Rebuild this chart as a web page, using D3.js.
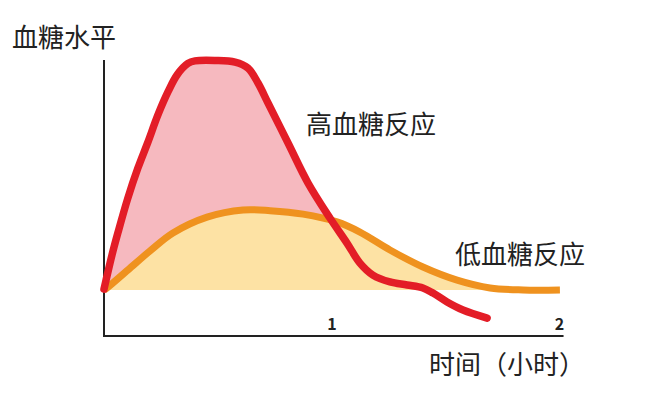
<!DOCTYPE html>
<html>
<head>
<meta charset="utf-8">
<script src="https://cdn.jsdelivr.net/npm/d3@7"></script>
<style>
html,body{margin:0;padding:0;background:#fff;}
text{font-family:"Noto Sans CJK SC","Noto Sans",sans-serif;fill:#222;}
</style>
</head>
<body>
<svg id="c" width="662" height="411"></svg>
<script>
// time (hours) and blood glucose level (relative units, 0 = fasting baseline)
const highTime  = [0, 0.009, 0.035, 0.062, 0.105, 0.149, 0.193, 0.237, 0.281, 0.321, 0.369, 0.4, 0.488, 0.576, 0.633, 0.677, 0.721, 0.809, 0.897, 0.993, 1.068, 1.125, 1.182, 1.257, 1.332, 1.402, 1.446, 1.508, 1.578, 1.684];
const highLevel = [0.4, 4.3, 15.2, 25.2, 40, 53, 64.3, 76.1, 86.1, 93.5, 98.5, 99.6, 99.8, 99.1, 96.5, 90, 81.3, 63.9, 46.5, 31.3, 20.4, 11.7, 6.5, 3.5, 2.2, 0.9, -1.3, -5.2, -8.7, -12.2];
const lowTime   = [0, 0.013, 0.105, 0.207, 0.303, 0.453, 0.611, 0.73, 0.875, 1.024, 1.125, 1.257, 1.402, 1.552, 1.697, 1.842, 2.004];
const lowLevel  = [0, 0.9, 8.7, 17.4, 24.8, 31.7, 34.8, 34.5, 33.0, 29.6, 25.2, 17.4, 10, 4.3, 0.9, 0, 0];
const xTicks = [1, 2];
const yTitle = "血糖水平";
const xTitle = "时间（小时）";
const highLabel = "高血糖反应";
const lowLabel = "低血糖反应";

const high = highTime.map((t,i)=>({t, v: highLevel[i]}));
const low = lowTime.map((t,i)=>({t, v: lowLevel[i]}));

const svg = d3.select("#c");
const x = d3.scaleLinear().domain([0, 2]).range([104, 559]);
const y = d3.scaleLinear().domain([-20, 100]).range([336, 60]);

const curve = d3.curveCatmullRom.alpha(0.5);

// pink area (only above baseline)
svg.append("path")
  .datum(high.filter(d => d.t <= 1.45))
  .attr("fill", "#f6b9bf")
  .attr("d", d3.area().x(d=>x(d.t)).y0(y(0)).y1(d=>y(Math.max(0,d.v))).curve(curve));

// orange area
svg.append("path")
  .datum(low)
  .attr("fill", "#fde2a4")
  .attr("d", d3.area().x(d=>x(d.t)).y0(y(0)).y1(d=>y(d.v)).curve(curve));

// axes
const xAxis = d3.axisBottom(x).tickValues(xTicks).tickSize(0).tickFormat(d3.format("d"));
const gx = svg.append("g").attr("transform", `translate(0,${y(-20)})`).call(xAxis);
gx.select(".domain").attr("d", `M${x(0)},0H${x(2.02)}`).attr("stroke", "#222").attr("stroke-width", 2);
gx.selectAll(".tick text").attr("y", -6).attr("dy", "0").attr("font-size", 16).attr("font-weight", 600).attr("fill", "#222")
  .attr("font-family", '"Open Sans","Noto Sans",sans-serif');

const yAxis = d3.axisLeft(y).tickValues([]).tickSize(0);
const gy = svg.append("g").attr("transform", `translate(${x(0)},0)`).call(yAxis);
gy.select(".domain").attr("d", `M0,${y(100)}V${y(-20)+1}`).attr("stroke", "#222").attr("stroke-width", 2);

// lines
const line = d3.line().x(d=>x(d.t)).y(d=>y(d.v)).curve(curve);
svg.append("path").datum(low).attr("fill","none").attr("stroke","#ef921f").attr("stroke-width",7).attr("stroke-linecap","butt").attr("d", line);
svg.append("path").datum(high).attr("fill","none").attr("stroke","#e31d27").attr("stroke-width",7.5).attr("stroke-linecap","round").attr("stroke-linejoin","round").attr("d", line);

// labels
svg.append("text").attr("x", 12).attr("y", 47).attr("font-size", 26).text(yTitle);
svg.append("text").attr("x", 585).attr("y", 374).attr("text-anchor","end").attr("font-size", 26).text(xTitle);
svg.append("text").attr("x", 306).attr("y", 134).attr("font-size", 26).text(highLabel);
svg.append("text").attr("x", 455).attr("y", 264).attr("font-size", 26).text(lowLabel);
</script>
</body>
</html>
